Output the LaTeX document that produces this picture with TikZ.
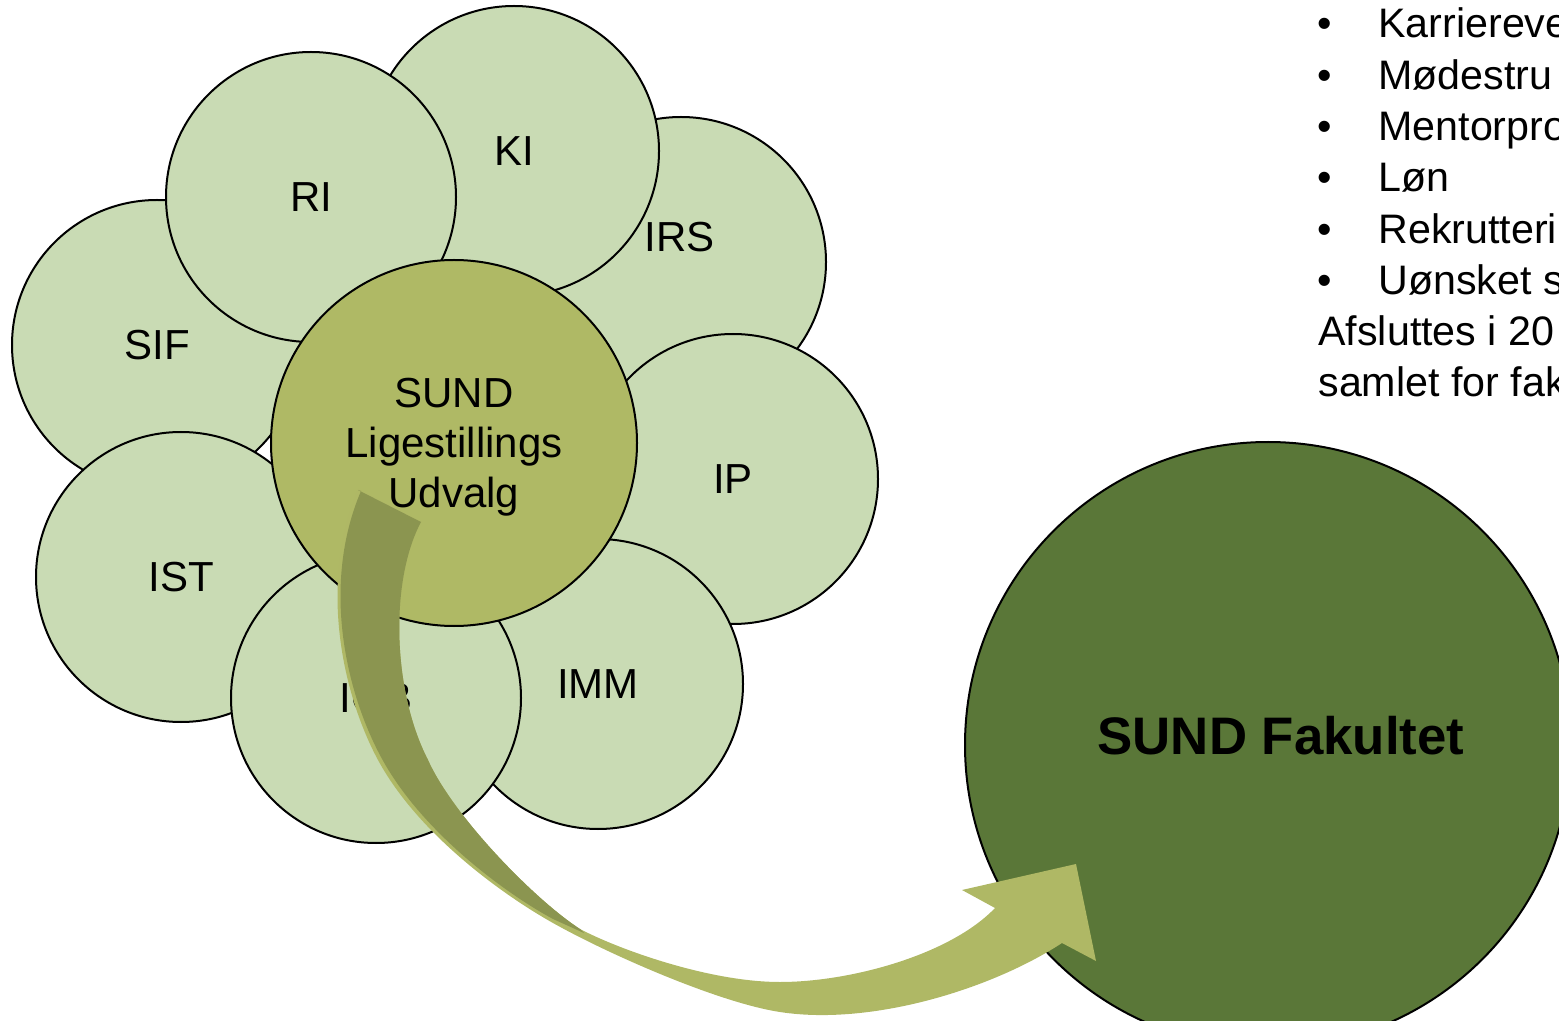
\documentclass[tikz,border=0pt]{standalone}
\usepackage{fontspec}
\setmainfont{Liberation Sans}
\definecolor{petalfill}{RGB}{201,219,180}
\definecolor{centerfill}{RGB}{175,185,101}
\definecolor{fakfill}{RGB}{90,119,56}
\definecolor{arrowlight}{RGB}{175,184,101}
\definecolor{arrowdark}{RGB}{139,149,80}
\begin{document}
\begin{tikzpicture}[x=0.5pt,y=-0.5pt,
  petal/.style={circle, draw=black, line width=1pt, fill=petalfill, inner sep=0pt, minimum size=145pt, font=\fontsize{21}{25}\selectfont},
  hub/.style={circle, draw=black, line width=1pt, fill=centerfill, inner sep=0pt, minimum size=183pt},
  fak/.style={circle, draw=black, line width=1pt, fill=fakfill, inner sep=0pt, minimum size=303pt},
  lbl/.style={inner sep=0pt, font=\fontsize{21}{25}\selectfont},
  listtxt/.style={inner sep=0pt, anchor=base west, font=\fontsize{20.6}{25}\selectfont},
  bul/.style={inner sep=0pt, anchor=base, font=\fontsize{20.6}{25}\selectfont}]
\useasboundingbox (0,0) rectangle (1559,1021);
\clip (0,0) rectangle (1559,1021);
% petals, bottom to top
\node[petal] (IRS) at (681,262) {};
\node[lbl] (IRSlabel) at (680,237) {IRS};
\node[petal] (KI) at (514,151) {KI};
\node[petal] (IP) at (733,479) {IP};
\node[petal] (IMM) at (598,684) {IMM};
\node[petal] (SIF) at (157,345) {SIF};
\node[petal] (IST) at (181,577) {IST};
\node[petal] (IOB) at (376,698) {IOB};
\node[petal] (RI) at (311,197) {RI};
% hub
\node[hub] (hub) at (454,443) {};
\node[lbl, align=center, anchor=base] (hubtext) at (454,508) {SUND\\Ligestillings\\Udvalg};
% faculty
\node[fak] (fak) at (1268,745) {};
\node[inner sep=0pt, font=\fontsize{26.4}{30}\selectfont\bfseries] (faktext) at (1281,736) {SUND Fakultet};
% curved arrow: light outer surface
\fill[arrowlight] (358,489)
  .. controls (318,585) and (343,695) .. (378,760)
  .. controls (418,834) and (503,895) .. (553,923)
  .. controls (610,955) and (720,1003) .. (780,1012)
  .. controls (870,1026) and (990,990) .. (1062,943)
  -- (1096,961) -- (1076,864) -- (962,890) -- (995,908)
  .. controls (950,955) and (850,982) .. (780,982)
  .. controls (710,982) and (620,950) .. (580,929)
  .. controls (535,900) and (453,816) .. (428,760)
  .. controls (392,690) and (390,580) .. (421,522)
  -- cycle;
% dark inner surface
\fill[arrowdark] (358,490) -- (421,522)
  .. controls (390,580) and (392,690) .. (428,760)
  .. controls (453,816) and (535,900) .. (580,929)
  -- (584,933) -- (553,919)
  .. controls (503,892) and (420,830) .. (381,757)
  .. controls (346,692) and (321,585) .. (361,491)
  -- cycle;
% list on the right
\foreach \t [count=\i] in {Karriereve, Mødestru, Mentorpro, Løn, Rekrutteri, Uønsket s}{
  \node[bul] (b\i) at (1325,{38+51.3*(\i-1)}) {•};
  \node[listtxt] (t\i) at (1378,{38+51.3*(\i-1)}) {\t};
}
\node[listtxt] (t7) at (1318,346) {Afsluttes i 20};
\node[listtxt] (t8) at (1318,397) {samlet for fak};
\end{tikzpicture}
\end{document}
